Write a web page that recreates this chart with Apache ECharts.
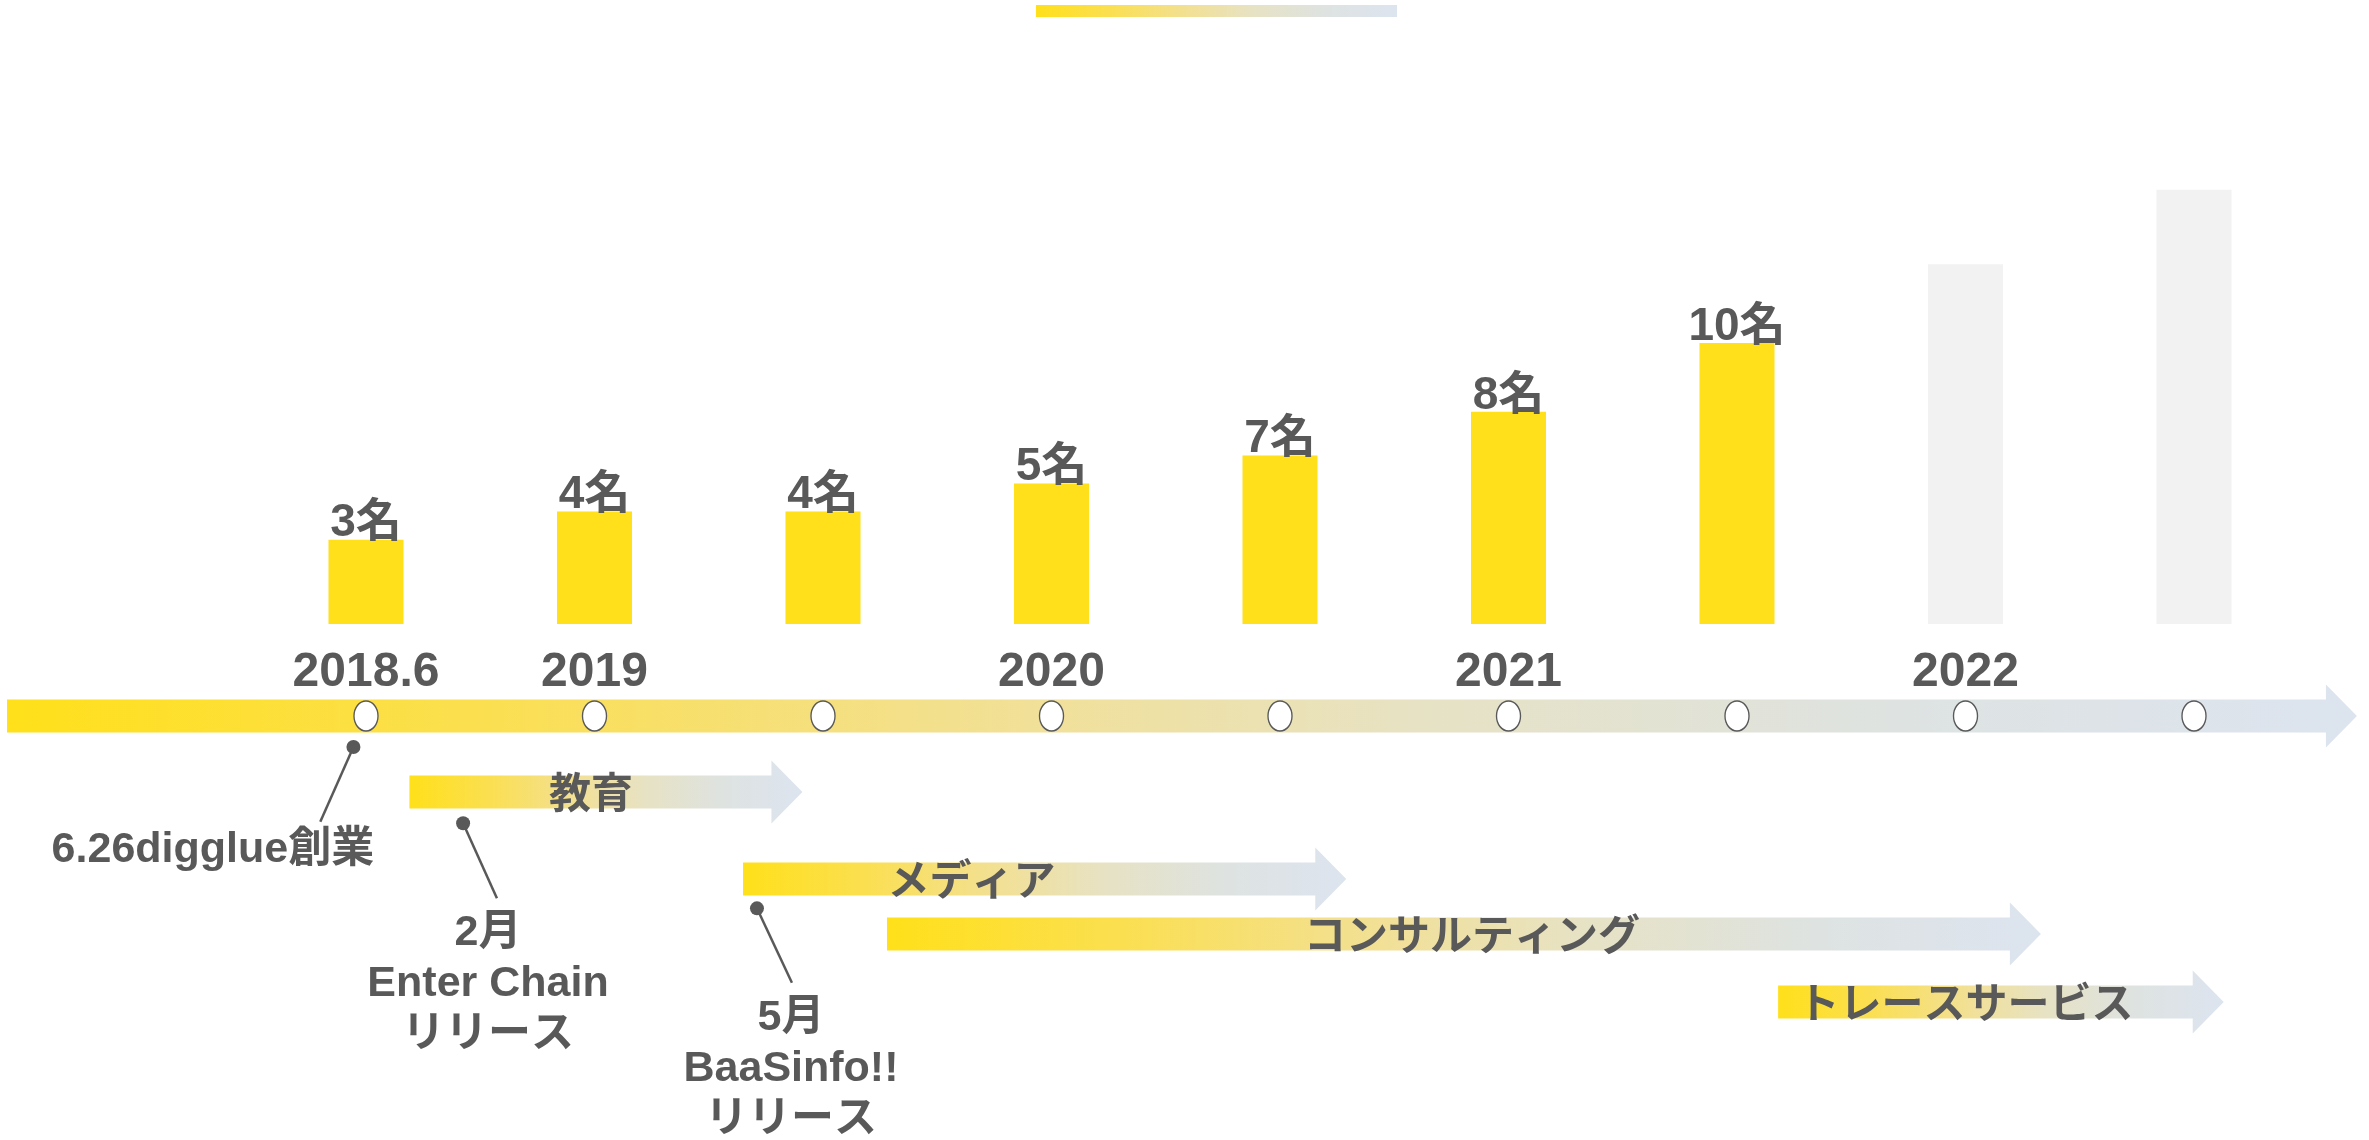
<!DOCTYPE html>
<html>
<head>
<meta charset="utf-8">
<script src="https://cdn.jsdelivr.net/npm/echarts@6/dist/echarts.min.js"></script>
<style>
  html, body { margin: 0; padding: 0; background: #fff; }
  #chart { width: 2369px; height: 1140px; }
</style>
</head>
<body>
<div id="chart"></div>
<script>
// half-year steps along the timeline
var categories = ['2018.6', '2019.1', '2019.6', '2020.1', '2020.6', '2021.1', '2021.6', '2022.1', '2022.6'];
var yearLabels = ['2018.6', '2019', '', '2020', '', '2021', '', '2022', ''];

// headcount bars (heights as drawn) and their labels
var barHeights = [3, 4, 4, 5, 6, 7.55, 10, 12.8, 15.45];
var headcountLabels = ['3名', '4名', '4名', '5名', '7名', '8名', '10名', '', ''];
var isPlan = [false, false, false, false, false, false, false, true, true];

// main timeline, in timeline steps
var timelineStart = -1.571;
var timelineEnd = 8.713;

// business lines
var phaseNames = ['教育', 'メディア', 'コンサルティング', 'トレースサービス'];
var phaseStart = [0.19, 1.65, 2.28, 6.18];
var phaseEnd = [1.91, 4.29, 7.33, 8.13];
var phaseLane = [1.063, 2.28, 3.05, 4];
var phaseLabelAt = [0.985, 2.65, 4.84, 7.0];

// milestones
var milestoneText = ['6.26digglue創業', '2月\nEnter Chain\nリリース', '5月\nBaaSinfo!!\nリリース'];
var milestoneDot = [[-0.055, 0.434], [0.425, 1.50], [1.711, 2.69]];
var milestoneLineEnd = [[-0.2, 1.48], [0.573, 2.55], [1.864, 3.73]];
var milestoneTextAt = [[-0.67, 1.87], [0.534, 3.03], [1.86, 4.22]];

var TEXT = '#595959';
var YELLOW = '#FFE01A';
var PLAN_GRAY = '#F2F2F2';
var FONT = '"Liberation Sans", "Noto Sans CJK JP", sans-serif';
var JP_FONT = '"Noto Sans CJK JP", sans-serif';

function fadeGradient() {
    return new echarts.graphic.LinearGradient(0, 0, 1, 0, [
        { offset: 0, color: '#FFE01A' },
        { offset: 0.2, color: '#FBDF50' },
        { offset: 0.4, color: '#F3E08E' },
        { offset: 0.6, color: '#E7E2C4' },
        { offset: 0.8, color: '#DEE3E1' },
        { offset: 1, color: '#DCE4EF' }
    ]);
}

function arrowPoints(x0, x1, y) {
    var body = 16.5, head = 31.5, headLen = 31;
    return [
        [x0, y - body], [x1 - headLen, y - body], [x1 - headLen, y - head],
        [x1, y],
        [x1 - headLen, y + head], [x1 - headLen, y + body], [x0, y + body]
    ];
}

var arrowData = [[timelineStart, timelineEnd, 0, NaN]];
var arrowLabels = [''];
phaseNames.forEach(function (name, i) {
    arrowData.push([phaseStart[i], phaseEnd[i], phaseLane[i], phaseLabelAt[i]]);
    arrowLabels.push(name);
});

var milestoneData = milestoneText.map(function (t, i) {
    return [milestoneDot[i][0], milestoneDot[i][1], milestoneLineEnd[i][0], milestoneLineEnd[i][1],
        milestoneTextAt[i][0], milestoneTextAt[i][1]];
});

var chart = echarts.init(document.getElementById('chart'));
var option = {
    backgroundColor: '#fff',
    animation: false,
    graphic: [{
        type: 'rect',
        left: 1036, top: 5,
        shape: { width: 361, height: 12 },
        style: { fill: fadeGradient() }
    }],
    grid: [
        { left: 251.75, right: 60.75, top: 62, bottom: 516 },
        { left: 0.4, right: 3.625, top: 644.5, bottom: 30.75 }
    ],
    xAxis: [{
        gridIndex: 0,
        type: 'category',
        data: categories,
        axisLine: { show: false },
        axisTick: { show: false },
        splitLine: { show: false },
        axisLabel: {
            interval: 0,
            margin: 25,
            color: TEXT,
            fontSize: 48,
            fontWeight: 'bold',
            fontFamily: FONT,
            formatter: function (v, idx) { return yearLabels[idx]; }
        }
    }, {
        gridIndex: 1,
        type: 'value',
        min: -1.6,
        max: 8.75,
        show: false
    }],
    yAxis: [{
        gridIndex: 0,
        type: 'value',
        min: 0,
        max: 20,
        show: false
    }, {
        gridIndex: 1,
        type: 'value',
        min: -1,
        max: 5.5,
        inverse: true,
        show: false
    }],
    series: [{
        type: 'bar',
        xAxisIndex: 0,
        yAxisIndex: 0,
        barWidth: 75,
        data: barHeights.map(function (v, i) {
            return { value: v, itemStyle: { color: isPlan[i] ? PLAN_GRAY : YELLOW } };
        }),
        label: {
            show: true,
            position: 'top',
            distance: -7,
            color: TEXT,
            fontSize: 46,
            fontWeight: 'bold',
            fontFamily: FONT,
            formatter: function (p) { return headcountLabels[p.dataIndex]; }
        }
    }, {
        type: 'custom',
        xAxisIndex: 1,
        yAxisIndex: 1,
        z: 1,
        data: arrowData,
        renderItem: function (params, api) {
            var a = api.coord([api.value(0), api.value(2)]);
            var b = api.coord([api.value(1), api.value(2)]);
            var children = [{
                type: 'polygon',
                shape: { points: arrowPoints(a[0], b[0], a[1]) },
                style: { fill: fadeGradient() }
            }];
            var label = arrowLabels[params.dataIndex];
            if (label) {
                var c = api.coord([api.value(3), api.value(2)]);
                children.push({
                    type: 'text',
                    x: c[0], y: c[1],
                    style: {
                        text: label, fill: TEXT, align: 'center', verticalAlign: 'middle',
                        fontSize: 42, fontWeight: 'bold', fontFamily: JP_FONT
                    }
                });
            }
            return { type: 'group', children: children };
        }
    }, {
        type: 'scatter',
        xAxisIndex: 1,
        yAxisIndex: 1,
        z: 3,
        symbol: 'path://M0,-1 A1,1 0 1,1 0,1 A1,1 0 1,1 0,-1 Z',
        symbolSize: [24, 30],
        itemStyle: { color: '#fff', opacity: 1, borderColor: TEXT, borderWidth: 1.5 },
        data: categories.map(function (c, i) { return [i, 0]; })
    }, {
        type: 'custom',
        xAxisIndex: 1,
        yAxisIndex: 1,
        z: 2,
        data: milestoneData,
        renderItem: function (params, api) {
            var dot = api.coord([api.value(0), api.value(1)]);
            var end = api.coord([api.value(2), api.value(3)]);
            var t = api.coord([api.value(4), api.value(5)]);
            return {
                type: 'group',
                children: [{
                    type: 'line',
                    shape: { x1: dot[0], y1: dot[1], x2: end[0], y2: end[1] },
                    style: { stroke: TEXT, lineWidth: 2.5 }
                }, {
                    type: 'circle',
                    shape: { cx: dot[0], cy: dot[1], r: 7 },
                    style: { fill: TEXT }
                }, {
                    type: 'text',
                    x: t[0], y: t[1] - 25.5,
                    style: {
                        text: milestoneText[params.dataIndex], fill: TEXT,
                        align: 'center', verticalAlign: 'top', lineHeight: 51,
                        fontSize: 43, fontWeight: 'bold', fontFamily: FONT
                    }
                }]
            };
        }
    }]
};
chart.setOption(option);
</script>
</body>
</html>
